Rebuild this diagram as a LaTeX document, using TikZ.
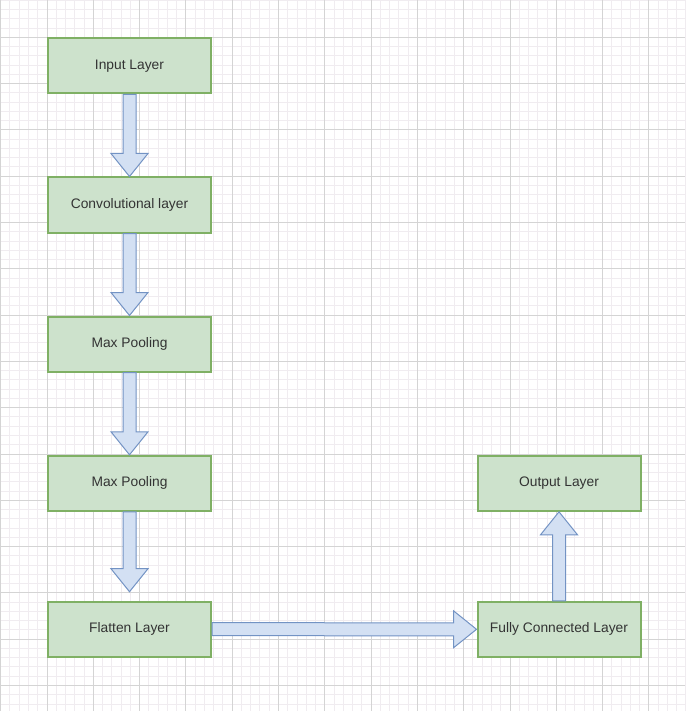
\documentclass[tikz,border=0pt]{standalone}
\usepackage{fontspec}
\setmainfont{Liberation Sans}
\usetikzlibrary{calc}
\definecolor{boxfill}{HTML}{CDE2CC}
\definecolor{boxline}{HTML}{7FB064}
\definecolor{arrfill}{HTML}{D3E0F3}
\definecolor{arrline}{HTML}{7393C4}
\definecolor{txt}{HTML}{333333}
\definecolor{minorgrid}{HTML}{F0ECF0}
\definecolor{majorgrid}{HTML}{D4D4D4}
\tikzset{ lyr/.style = { rectangle % layer box
, draw = boxline
, fill = boxfill
, line width = 2pt
, minimum width = 163pt
, minimum height = 55pt
, font = \color{txt}\fontsize{13.8}{16}\selectfont
}
, arr/.style = { draw = arrline % block arrow
, fill = arrfill
, line width = 1pt
, line join = miter
}
, mi/.style = { draw = minorgrid % minor grid
, line width = 1pt
}
, ma/.style = { draw = majorgrid % major grid
, line width = 1pt
}
}
\def\barrow(#1)(#2){% block arrow
\coordinate (h) at ($(#2)!23pt!(#1)$);
\draw[arr] ($(#1)!6.5pt!90:(#2)$) -- ($(h)!6.5pt!-90:(#1)$) -- ($(h)!18.5pt!-90:(#1)$) -- (#2)
 -- ($(h)!18.5pt!90:(#1)$) -- ($(h)!6.5pt!90:(#1)$) -- ($(#1)!6.5pt!-90:(#2)$) -- cycle;
}
\begin{document}
\begin{tikzpicture}[x=1pt, y=-1pt]
                    \useasboundingbox[fill=white] (0,0) rectangle (685,711);
                    \foreach \i in {-5,...,69} \draw[mi] ({47+9.26*\i},0) -- ({47+9.26*\i},711);
                    \foreach \j in {-4,...,73} \draw[mi] (0,{37.3+9.26*\j}) -- (685,{37.3+9.26*\j});
                    \foreach \i in {-1,...,13} \draw[ma] ({47+46.3*\i},0) -- ({47+46.3*\i},711);
                    \foreach \j in {0,...,14} \draw[ma] (0,{37.3+46.3*\j}) -- (685,{37.3+46.3*\j});

                    \foreach[count=\n] \t/\y in {Input Layer/65.8, Convolutional layer/205, Max Pooling/344, Max Pooling/483.3, Flatten Layer/629.2}
                        \node[lyr] (l\n) at (129.5,\y) {\t};
                    \node[lyr] (out) at (559,483.3) {Output Layer};
                    \node[lyr] (fc) at (559,629.3) {Fully Connected Layer};
                    \coordinate (fl) at ([yshift=9pt]l5.north);

                    \foreach \a/\b in {l1/l2, l2/l3, l3/l4} \barrow(\a.south)(\b.north);
                    \barrow(l4.south)(fl);
                    \barrow(l5.east)(fc.west);
                    \barrow(fc.north)(out.south);
                \end{tikzpicture}
\end{document}
